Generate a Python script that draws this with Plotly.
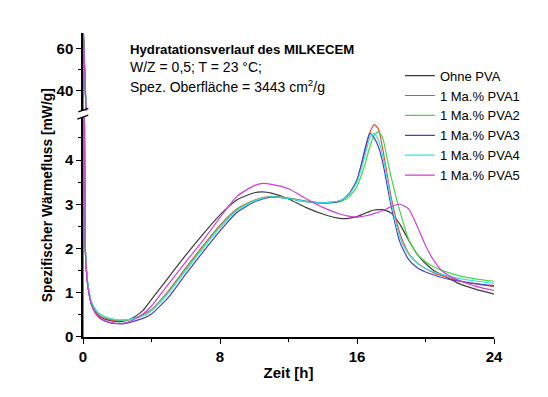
import plotly.graph_objects as go

# ---- data ----
zeit_h = [0, 0.02, 0.06, 0.12, 0.2, 0.3, 0.5, 0.75, 1, 1.5, 2, 2.5,
          3, 3.5, 4, 5, 6, 7, 8, 9, 10, 10.5, 11, 12, 13, 14, 15, 15.5,
          16, 16.25, 16.5, 16.75, 17, 17.25, 17.5, 17.75, 18, 18.5, 19,
          19.5, 20, 20.5, 21, 22, 23, 24]

ohne_pva = [0, 68, 8, 2.2, 1.5, 1.12, 0.75, 0.55, 0.45, 0.38, 0.35, 0.37,
            0.45, 0.6, 0.85, 1.35, 1.85, 2.32, 2.76, 3.1, 3.26, 3.28, 3.25, 3.12,
            2.93, 2.78, 2.68, 2.68, 2.72, 2.76, 2.8, 2.84, 2.87, 2.88, 2.88, 2.85,
            2.8, 2.55, 2.2, 1.88, 1.66, 1.5, 1.4, 1.2, 1.07, 0.97]

pva1 = [0, 68, 8, 2.2, 1.5, 1.12, 0.76, 0.57, 0.47, 0.40, 0.37, 0.38,
        0.42, 0.5, 0.62, 1.05, 1.56, 2.06, 2.53, 2.9, 3.09, 3.15, 3.18, 3.14,
        3.07, 3.03, 3.08, 3.2, 3.55, 3.88, 4.25, 4.62, 4.8, 4.7, 4.25, 3.7,
        3.15, 2.35, 1.9, 1.68, 1.55, 1.45, 1.38, 1.27, 1.2, 1.14]

pva2 = [0, 68, 8, 2.2, 1.5, 1.14, 0.78, 0.6, 0.5, 0.42, 0.38, 0.38,
        0.42, 0.48, 0.6, 1.02, 1.53, 2.03, 2.5, 2.88, 3.08, 3.14, 3.17, 3.14,
        3.07, 3.03, 3.06, 3.15, 3.4, 3.65, 3.95, 4.3, 4.55, 4.64, 4.5, 4.05,
        3.6, 2.85, 2.22, 1.88, 1.7, 1.58, 1.5, 1.38, 1.31, 1.26]

pva3 = [0, 68, 8, 2.2, 1.5, 1.1, 0.72, 0.52, 0.42, 0.33, 0.30, 0.31,
        0.36, 0.42, 0.52, 0.9, 1.42, 1.92, 2.4, 2.82, 3.05, 3.12, 3.16, 3.13,
        3.06, 3.03, 3.07, 3.22, 3.55, 3.9, 4.3, 4.6, 4.5, 4.3, 3.95, 3.45,
        2.95, 2.15, 1.76, 1.57, 1.47, 1.4, 1.34, 1.26, 1.2, 1.16]

pva4 = [0, 68, 8, 2.25, 1.55, 1.15, 0.8, 0.62, 0.52, 0.43, 0.39, 0.39,
        0.42, 0.48, 0.6, 1.0, 1.5, 2.0, 2.47, 2.86, 3.07, 3.14, 3.17, 3.13,
        3.06, 3.03, 3.08, 3.2, 3.5, 3.8, 4.15, 4.5, 4.6, 4.45, 4.1, 3.6,
        3.05, 2.25, 1.88, 1.67, 1.55, 1.47, 1.41, 1.32, 1.26, 1.21]

pva5 = [0, 68, 8, 2.2, 1.5, 1.1, 0.73, 0.53, 0.43, 0.34, 0.31, 0.32,
        0.40, 0.52, 0.7, 1.2, 1.7, 2.18, 2.7, 3.18, 3.42, 3.47, 3.45, 3.35,
        3.13, 2.93, 2.78, 2.73, 2.71, 2.72, 2.74, 2.76, 2.79, 2.82, 2.86, 2.9,
        2.95, 3.0, 2.9, 2.52, 2.07, 1.72, 1.48, 1.27, 1.14, 1.05]

series_names = ["Ohne PVA", "1 Ma.% PVA1", "1 Ma.% PVA2",
                "1 Ma.% PVA3", "1 Ma.% PVA4", "1 Ma.% PVA5"]
series_values = [ohne_pva, pva1, pva2, pva3, pva4, pva5]
series_colors = ["#3c3c3c", "#e2503c", "#45d845", "#4b3ec6", "#35e3e3", "#d23ed2"]

x_ticks = [0, 8, 16, 24]
y_ticks_low = [0, 1, 2, 3, 4]

title_lines = ["<b>Hydratationsverlauf des MILKECEM</b>",
               "W/Z = 0,5; T = 23 °C;",
               "Spez. Oberfläche = 3443 cm<sup>2</sup>/g"]
title_sizes = [13.2, 14, 14]
x_title = "Zeit [h]"
y_title = "Spezifischer Wärmefluss [mW/g]"

FONT = "Arial, 'Liberation Sans', sans-serif"

fig = go.Figure()
for name, vals, col in zip(series_names, series_values, series_colors):
    fig.add_trace(go.Scatter(x=zeit_h, y=vals, name=name, mode="lines",
                             line=dict(color=col, width=1.2, shape="spline", smoothing=0.6),
                             xaxis="x", yaxis="y"))
for name, vals, col in zip(series_names, series_values, series_colors):
    fig.add_trace(go.Scatter(x=zeit_h, y=vals, name=name, mode="lines", showlegend=False,
                             line=dict(color=col, width=1.2),
                             xaxis="x", yaxis="y2"))

axis_common = dict(showline=True, linecolor="black", linewidth=1.5, ticks="outside",
                   ticklen=5, tickwidth=1.3, tickcolor="black", showgrid=False,
                   zeroline=False,
                   tickfont=dict(family=FONT, size=15, color="black", weight="bold"))

# page body has an 8px margin -> figure is sized/margined to compensate
fig.update_layout(
    width=540, height=389,
    margin=dict(l=75, r=54, t=25, b=60),
    paper_bgcolor="white", plot_bgcolor="white",
    font=dict(family=FONT, color="black"),
    xaxis=dict(range=[0, 24], tickvals=x_ticks, anchor="y",
               minor=dict(tickvals=[4, 12, 20], ticklen=3, tickcolor="black", ticks="outside"),
               title=dict(text="<b>" + x_title + "</b>", font=dict(family=FONT, size=15), standoff=4),
               **axis_common),
    yaxis=dict(range=[0, 4.97], domain=[0, 0.7234], tickvals=y_ticks_low, anchor="x",
               minor=dict(tickvals=[0.5, 1.5, 2.5, 3.5, 4.5], ticklen=3, tickcolor="black", ticks="outside"),
               **axis_common),
    yaxis2=dict(range=[30.3, 67.4], domain=[0.7432, 1], tickmode="linear", tick0=0, dtick=20,
                anchor="x",
                minor=dict(tick0=0, dtick=10, ticklen=3, tickcolor="black", ticks="outside"),
                **axis_common),
    legend=dict(x=0.771, y=0.909, xanchor="left", yanchor="top", bgcolor="rgba(0,0,0,0)",
                font=dict(family=FONT, size=13), itemwidth=30, tracegroupgap=0),
    showlegend=True,
)

for txt, yp, fs in zip(title_lines, [0.946, 0.887, 0.825], title_sizes):
    fig.add_annotation(text=txt, xref="paper", yref="paper", x=0.1095, y=yp,
                       xanchor="left", yanchor="middle", showarrow=False,
                       font=dict(family=FONT, size=fs, color="black"))

fig.add_annotation(text="<b>" + y_title + "</b>", xref="paper", yref="paper",
                   x=-0.0876, y=0.4666, textangle=-90, showarrow=False,
                   xanchor="center", yanchor="middle",
                   font=dict(family=FONT, size=13.8, color="black"))

# axis-break marks
for x0, x1, y0, y1 in [(-0.0114, 0.0129, 0.7409, 0.7520), (-0.0139, 0.0129, 0.7168, 0.7300)]:
    fig.add_shape(type="line", xref="paper", yref="paper",
                  x0=x0, x1=x1, y0=y0, y1=y1,
                  line=dict(color="black", width=1.3))

fig.write_html("out.html")
